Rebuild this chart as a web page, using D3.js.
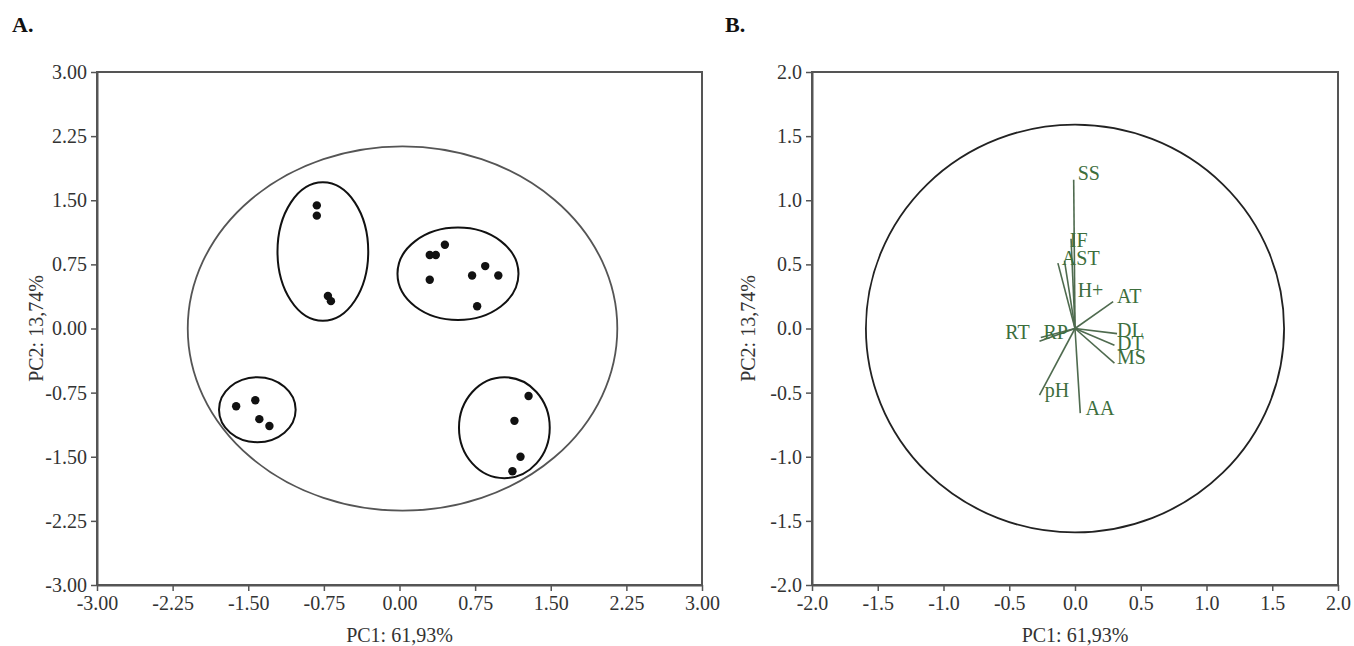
<!DOCTYPE html>
<html>
<head>
<meta charset="utf-8">
<script src="https://cdn.jsdelivr.net/npm/d3@7"></script>
<style>
  body { margin: 0; background: #fff; }
  svg text { font-family: "Liberation Serif", "DejaVu Serif", serif; }
</style>
</head>
<body>
<svg id="chart" width="1354" height="646"></svg>
<script>
// panel A: sample scores
var scoreX = [-0.82, -0.82, -0.71, -0.68,
  0.30, 0.36, 0.45, 0.30, 0.72, 0.85, 0.98, 0.77,
  -1.62, -1.43, -1.39, -1.29,
  1.28, 1.14, 1.20, 1.12]
var scoreY = [1.44, 1.32, 0.38, 0.32,
  0.86, 0.86, 0.98, 0.57, 0.62, 0.73, 0.62, 0.26,
  -0.91, -0.84, -1.06, -1.14,
  -0.79, -1.08, -1.50, -1.67]

// group ellipses: centre and radii in PC units
var groupCx = [-0.76, 0.58, -1.41, 1.04]
var groupCy = [0.90, 0.64, -0.95, -1.16]
var groupRx = [0.45, 0.60, 0.38, 0.45]
var groupRy = [0.81, 0.54, 0.38, 0.59]

// outer circles
var outerA = { cx: 0.03, cy: 0, r: 2.13 }
var outerB = { cx: 0, cy: 0, r: 1.59 }

// panel B: loadings
var varNames = ['SS', 'IF', 'AST', 'H+', 'AT', 'DL', 'DT', 'MS', 'AA', 'pH', 'RP', 'RT']
var loadX = [-0.01, -0.03, -0.08, -0.13, 0.29, 0.32, 0.30, 0.30, 0.04, -0.27, -0.27, -0.26]
var loadY = [1.16, 0.70, 0.53, 0.51, 0.21, -0.04, -0.13, -0.27, -0.66, -0.52, -0.10, -0.07]
var labelX = [0.02, -0.04, -0.10, 0.02, 0.32, 0.32, 0.32, 0.32, 0.08, -0.23, -0.24, -0.53]
var labelY = [1.21, 0.69, 0.55, 0.30, 0.25, -0.01, -0.11, -0.22, -0.62, -0.48, -0.03, -0.03]

var ticksA = [-3, -2.25, -1.5, -0.75, 0, 0.75, 1.5, 2.25, 3]
var ticksB = [-2, -1.5, -1, -0.5, 0, 0.5, 1, 1.5, 2]
var xTitle = 'PC1: 61,93%'
var yTitle = 'PC2: 13,74%'

var svg = d3.select('#chart')
var ink = '#333'

function panel(o) {
  var x = d3.scaleLinear().domain(o.domain).range([o.left, o.right])
  var y = d3.scaleLinear().domain(o.domain).range([o.bottom, o.top])
  var g = svg.append('g')
  var fmt = function(d) { return d.toFixed(o.digits) }

  g.append('rect')
    .attr('x', o.left).attr('y', o.top)
    .attr('width', o.right - o.left).attr('height', o.bottom - o.top)
    .attr('fill', 'none').attr('stroke', '#555').attr('stroke-width', 2)

  var ax = g.append('g').attr('transform', 'translate(0,' + o.bottom + ')')
    .call(d3.axisBottom(x).tickValues(o.ticks).tickFormat(fmt).tickSize(6).tickSizeOuter(0).tickPadding(5))
  var ay = g.append('g').attr('transform', 'translate(' + o.left + ',0)')
    .call(d3.axisLeft(y).tickValues(o.ticks).tickFormat(fmt).tickSize(6).tickSizeOuter(0).tickPadding(4))
  ;[ax, ay].forEach(function(a) {
    a.select('.domain').attr('stroke', '#555').attr('stroke-width', 2)
    a.selectAll('.tick line').attr('stroke', '#555').attr('stroke-width', 1.5)
    a.selectAll('.tick text').attr('fill', ink).style('font-size', '20px')
  })

  g.append('text')
    .attr('x', (o.left + o.right) / 2).attr('y', 642)
    .attr('text-anchor', 'middle').attr('fill', ink).style('font-size', '20px')
    .text(xTitle)
  g.append('text')
    .attr('transform', 'translate(' + o.ytx + ',' + (o.top + o.bottom) / 2 + ') rotate(-90)')
    .attr('text-anchor', 'middle').attr('dy', '0.35em').attr('fill', ink).style('font-size', '20px')
    .text(yTitle)

  g.append('text')
    .attr('x', o.tagX).attr('y', 32)
    .attr('fill', '#111').style('font-size', '22px').style('font-weight', 'bold')
    .text(o.tag)

  var kx = x(1) - x(0), ky = y(0) - y(1)
  g.append('ellipse')
    .attr('cx', x(o.outer.cx)).attr('cy', y(o.outer.cy))
    .attr('rx', o.outer.r * kx).attr('ry', o.outer.r * ky)
    .attr('fill', 'none').attr('stroke', o.outerColor).attr('stroke-width', 1.8)

  return { g: g, x: x, y: y, kx: kx, ky: ky }
}

var A = panel({ domain: [-3, 3], left: 97, right: 702, top: 72, bottom: 585,
  ticks: ticksA, digits: 2, ytx: 36, tag: 'A.', tagX: 12, outer: outerA, outerColor: '#555' })

A.g.selectAll('ellipse.group').data(groupCx).enter().append('ellipse')
  .attr('class', 'group')
  .attr('cx', function(d) { return A.x(d) })
  .attr('cy', function(d, i) { return A.y(groupCy[i]) })
  .attr('rx', function(d, i) { return groupRx[i] * A.kx })
  .attr('ry', function(d, i) { return groupRy[i] * A.ky })
  .attr('fill', 'none').attr('stroke', '#111').attr('stroke-width', 2)

A.g.selectAll('circle.dot').data(scoreX).enter().append('circle')
  .attr('class', 'dot')
  .attr('cx', function(d) { return A.x(d) })
  .attr('cy', function(d, i) { return A.y(scoreY[i]) })
  .attr('r', 4.2)
  .attr('fill', '#111')

var B = panel({ domain: [-2, 2], left: 812, right: 1338, top: 72, bottom: 585,
  ticks: ticksB, digits: 1, ytx: 748, tag: 'B.', tagX: 725, outer: outerB, outerColor: '#222' })

B.g.selectAll('line.load').data(loadX).enter().append('line')
  .attr('class', 'load')
  .attr('x1', B.x(0)).attr('y1', B.y(0))
  .attr('x2', function(d) { return B.x(d) })
  .attr('y2', function(d, i) { return B.y(loadY[i]) })
  .attr('stroke', '#4f6b4f').attr('stroke-width', 1.6)

B.g.selectAll('text.load').data(varNames).enter().append('text')
  .attr('class', 'load')
  .attr('x', function(d, i) { return B.x(labelX[i]) })
  .attr('y', function(d, i) { return B.y(labelY[i]) })
  .attr('dy', '0.35em')
  .attr('fill', '#3c6e3c').style('font-size', '20px')
  .text(function(d) { return d })
</script>
</body>
</html>
